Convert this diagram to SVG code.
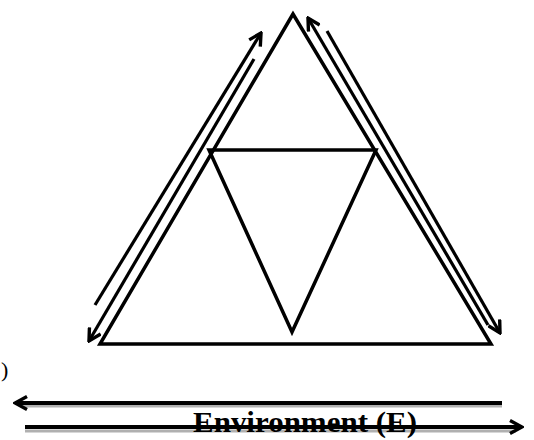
<svg xmlns="http://www.w3.org/2000/svg" width="534" height="440" viewBox="0 0 534 440">
<style>
.tri{fill:none;stroke:#000;stroke-width:3.5;stroke-linejoin:miter}
.arr{fill:none;stroke:#000;stroke-width:3.2}
.hz{fill:none;stroke:#000;stroke-width:4}
.sh{fill:none;stroke:#b0b0b0;stroke-width:3}
.lbl{font-family:"Liberation Serif","DejaVu Serif",serif;font-weight:bold;fill:#000}
</style>
<defs>
<marker id="ah" viewBox="0 0 16 16" refX="14" refY="8" markerWidth="16" markerHeight="16" markerUnits="userSpaceOnUse" orient="auto">
<path d="M2,1.5 L14,8 L2,14.5" fill="none" stroke="#000" stroke-width="3.4"/>
</marker>
</defs>
<rect width="534" height="440" fill="#fff"/>
<g id="outer-triangle"><polygon class="tri" points="293,14 100,344 491,344"/></g>
<g id="inner-triangle"><polygon class="tri" points="209,150 376,150 292,332"/></g>
<g id="connectors">
<line class="arr" x1="95" y1="305" x2="261" y2="33" marker-end="url(#ah)"/>
<line class="arr" x1="254" y1="59" x2="89" y2="341" marker-end="url(#ah)"/>
<line class="arr" x1="488" y1="325" x2="308" y2="18" marker-end="url(#ah)"/>
<line class="arr" x1="327" y1="31" x2="500" y2="333" marker-end="url(#ah)"/>
<line class="sh" x1="20" y1="406" x2="502" y2="406"/>
<line class="hz" x1="502" y1="403" x2="15" y2="403" marker-end="url(#ah)"/>
<line class="sh" x1="25" y1="431" x2="516" y2="431"/>
<line class="hz" x1="25" y1="427" x2="522" y2="427" marker-end="url(#ah)"/>
</g>
<g id="label-env"><text class="lbl" x="193" y="432" font-size="30" textLength="224" lengthAdjust="spacingAndGlyphs">Environment (E)</text></g>
<g id="label-paren"><text x="1" y="377" font-family="Liberation Serif, serif" font-size="22">)</text></g>
</svg>
